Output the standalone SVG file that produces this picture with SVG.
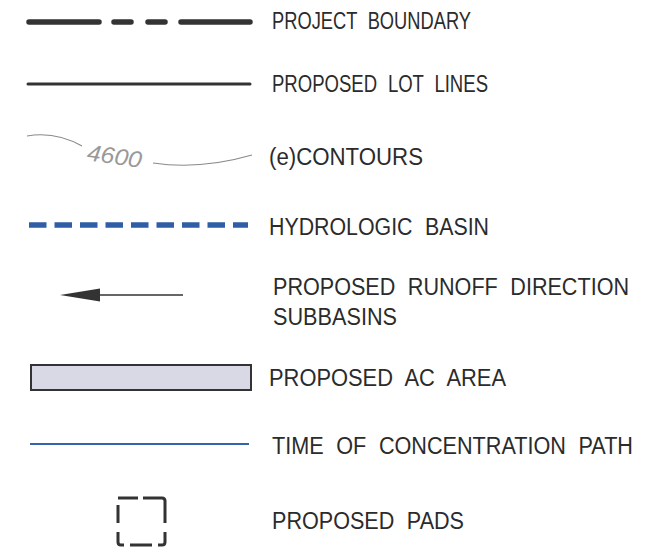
<svg xmlns="http://www.w3.org/2000/svg" width="669" height="549" viewBox="0 0 669 549">
<style>
.lbl{font-family:"Liberation Sans",Arial,sans-serif;font-size:23px;fill:#2b2b2b;word-spacing:7px}
.dark{stroke:#333;fill:none}
</style>
<rect width="669" height="549" fill="#fff"/>
<g id="project-boundary">
<path class="dark" d="M29,22H99M114,22H131M148,22H165M181,22H250" stroke-width="5.5" stroke-linecap="round"/>
<text class="lbl" x="272" y="29" textLength="199" lengthAdjust="spacingAndGlyphs">PROJECT BOUNDARY</text>
</g>
<g id="lot-lines">
<path class="dark" d="M28,84H250" stroke-width="3" stroke-linecap="round"/>
<text class="lbl" x="272" y="92" textLength="216" lengthAdjust="spacingAndGlyphs">PROPOSED LOT LINES</text>
</g>
<g id="contours">
<path d="M27,136Q55,131 82,146M153,163Q200,170 252,155" fill="none" stroke="#8a8a8a" stroke-width="1.2"/>
<text x="87" y="164" transform="rotate(8 114 156)" font-family="Liberation Sans,Arial,sans-serif" font-style="italic" font-size="23" fill="#999" textLength="55" lengthAdjust="spacingAndGlyphs">4600</text>
<text class="lbl" x="269" y="165" textLength="154" lengthAdjust="spacingAndGlyphs">(e)CONTOURS</text>
</g>
<g id="hydrologic-basin">
<path d="M29,225H248" fill="none" stroke="#2f5ea6" stroke-width="5.5" stroke-dasharray="17.5 8"/>
<text class="lbl" x="269" y="235" textLength="220" lengthAdjust="spacingAndGlyphs">HYDROLOGIC BASIN</text>
</g>
<g id="runoff-direction">
<path class="dark" d="M98,295H183" stroke-width="1.6"/>
<polygon points="60,295 100,288.5 100,301.5" fill="#333"/>
<text class="lbl" x="273" y="295" textLength="356" lengthAdjust="spacingAndGlyphs">PROPOSED RUNOFF DIRECTION</text>
<text class="lbl" x="273" y="325" textLength="124" lengthAdjust="spacingAndGlyphs">SUBBASINS</text>
</g>
<g id="ac-area">
<rect x="31" y="365" width="220" height="25" fill="#d9d9e5" stroke="#333" stroke-width="2"/>
<text class="lbl" x="269" y="386" textLength="237" lengthAdjust="spacingAndGlyphs">PROPOSED AC AREA</text>
</g>
<g id="tc-path">
<path d="M30,444H249" fill="none" stroke="#3563ad" stroke-width="2.2"/>
<text class="lbl" x="272" y="454" textLength="361" lengthAdjust="spacingAndGlyphs">TIME OF CONCENTRATION PATH</text>
</g>
<g id="pads">
<path class="dark" stroke-width="3" d="M118,498H138M143,498H162Q165,498 165,501V523M118,505V523M118,532V542Q118,545 121,545H124M130,545H152M158,545H162Q165,545 165,542V532"/>
<text class="lbl" x="272" y="529" textLength="192" lengthAdjust="spacingAndGlyphs">PROPOSED PADS</text>
</g>
<g id="connectors"/>
</svg>
